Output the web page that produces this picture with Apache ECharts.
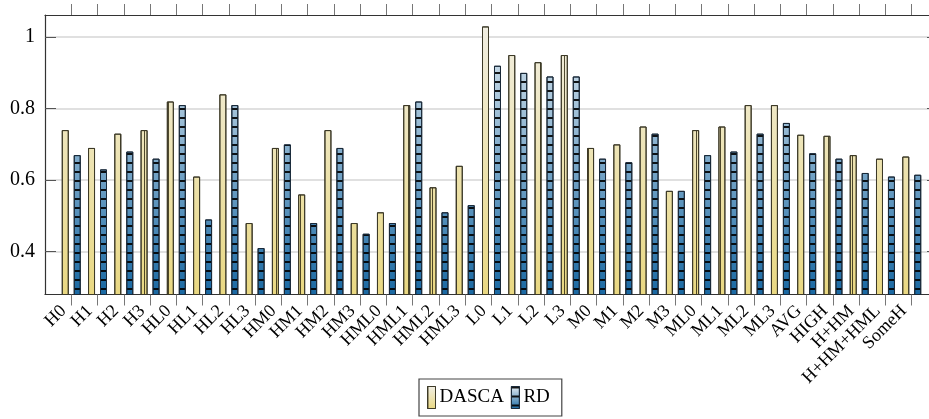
<!DOCTYPE html>
<html>
<head>
<meta charset="utf-8">
<script src="https://cdn.jsdelivr.net/npm/echarts@6/dist/echarts.min.js"></script>
<style>html,body{margin:0;padding:0;background:#fff}#c{width:929px;height:419px}</style>
</head>
<body>
<div id="c"></div>
<script>
const categories = ['H0','H1','H2','H3','HL0','HL1','HL2','HL3','HM0','HM1','HM2','HM3','HML0','HML1','HML2','HML3','L0','L1','L2','L3','M0','M1','M2','M3','ML0','ML1','ML2','ML3','AVG','HIGH','H+HM','H+HM+HML','SomeH'];
const dasca = [0.74,0.69,0.73,0.74,0.82,0.61,0.84,0.48,0.69,0.56,0.74,0.48,0.51,0.81,0.58,0.64,1.03,0.95,0.93,0.95,0.69,0.70,0.75,0.57,0.74,0.75,0.81,0.81,0.727,0.724,0.67,0.66,0.666];
const rd = [0.67,0.63,0.68,0.66,0.81,0.49,0.81,0.41,0.70,0.48,0.69,0.45,0.48,0.82,0.51,0.53,0.92,0.90,0.89,0.89,0.66,0.65,0.73,0.57,0.67,0.68,0.73,0.76,0.675,0.66,0.62,0.61,0.615];
const yTicks = [0.4, 0.6, 0.8, 1.0];
const yMin = 0.28, yMax = 1.062;

const FONT = 'Liberation Serif';
const cats = [''].concat(categories, ['']);
const pad = arr => ['-'].concat(arr, ['-']);

const dascaGrad = (g) => ({type:'linear', x:0, y:g?15:0, x2:0, y2:g?294:1, global:g,
  colorStops:[{offset:0,color:'#f1efe6'},{offset:1,color:'#e9d882'}]});
const rdGrad = (g) => ({type:'linear', x:0, y:g?15:0, x2:0, y2:g?294:1, global:g,
  colorStops:[{offset:0,color:'#e8eff4'},{offset:1,color:'#1a69a3'}]});
const dascaDecal = {symbol:'rect', symbolSize:1, dashArrayX:[1,11], dashArrayY:[100,0], color:'rgba(50,45,20,0.85)'};
const rdDecal = {symbol:'rect', symbolSize:1, dashArrayX:[100,0], dashArrayY:[1.2,6.5], color:'rgba(0,0,0,0.9)'};

const chart = echarts.init(document.getElementById('c'), null, {renderer:'canvas'});
chart.setOption({
  animation:false,
  textStyle:{fontFamily:FONT},
  grid:{left:45, top:15, width:893, height:279.5, containLabel:false, outerBoundsMode:'none'},
  legend:{
    left:419, top:379,
    data:[
      {name:'DASCA', itemStyle:{color:dascaGrad(false), borderColor:'#3d3a28', borderWidth:1, decal:dascaDecal}},
      {name:'RD', itemStyle:{color:rdGrad(false), borderColor:'#1a2a3a', borderWidth:1, decal:rdDecal}}
    ],
    icon:'rect', itemWidth:8, itemHeight:22, itemGap:7,
    padding:[7,12,7,8],
    borderColor:'#444', borderWidth:1.2,
    textStyle:{fontFamily:FONT, fontSize:19, color:'#000', padding:[0,0,0,-1]}
  },
  xAxis:[
    {type:'category', data:cats, boundaryGap:false, position:'bottom',
     axisLine:{show:true, lineStyle:{color:'#333', width:1.2}},
     axisTick:{show:true, inside:false, length:11, lineStyle:{color:'#777'}, interval:(i,v)=>v!==''},
     axisLabel:{interval:0, rotate:45, margin:6, padding:[0,11,0,0], fontFamily:FONT, fontSize:18, color:'#000'},
     splitLine:{show:false}},
    {type:'category', data:cats, boundaryGap:false, position:'top',
     axisLine:{show:true, lineStyle:{color:'#333', width:1.2}},
     axisTick:{show:true, inside:false, length:11, lineStyle:{color:'#777'}, interval:(i,v)=>v!==''},
     axisLabel:{show:false}, splitLine:{show:false}}
  ],
  yAxis:[
    {type:'value', min:yMin, max:yMax, position:'left',
     axisLine:{show:true, lineStyle:{color:'#333', width:1.2}},
     axisTick:{show:true, inside:true, length:11, customValues:yTicks, lineStyle:{color:'#555'}},
     axisLabel:{customValues:yTicks, margin:10, fontFamily:FONT, fontSize:20, color:'#000',
       formatter:v=>String(Math.round(v*10)/10)},
     splitLine:{show:true, lineStyle:{color:'#d6d6d6', width:1.5}}},
    {type:'value', min:yMin, max:yMax, position:'right',
     axisLine:{show:true, lineStyle:{color:'#333', width:1.2}},
     axisTick:{show:true, inside:true, length:11, customValues:yTicks, lineStyle:{color:'#555'}},
     axisLabel:{show:false}, splitLine:{show:false}}
  ],
  series:[
    {name:'DASCA', type:'bar', xAxisIndex:0, yAxisIndex:0, data:pad(dasca), barWidth:7, barGap:'71%',
     itemStyle:{color:dascaGrad(true), borderColor:'#3d3a28', borderWidth:1, decal:dascaDecal}},
    {name:'RD', type:'bar', xAxisIndex:0, yAxisIndex:0, data:pad(rd), barWidth:7, barGap:'71%',
     itemStyle:{color:rdGrad(true), borderColor:'#1a2a3a', borderWidth:1, decal:rdDecal}}
  ]
});
</script>
</body>
</html>
